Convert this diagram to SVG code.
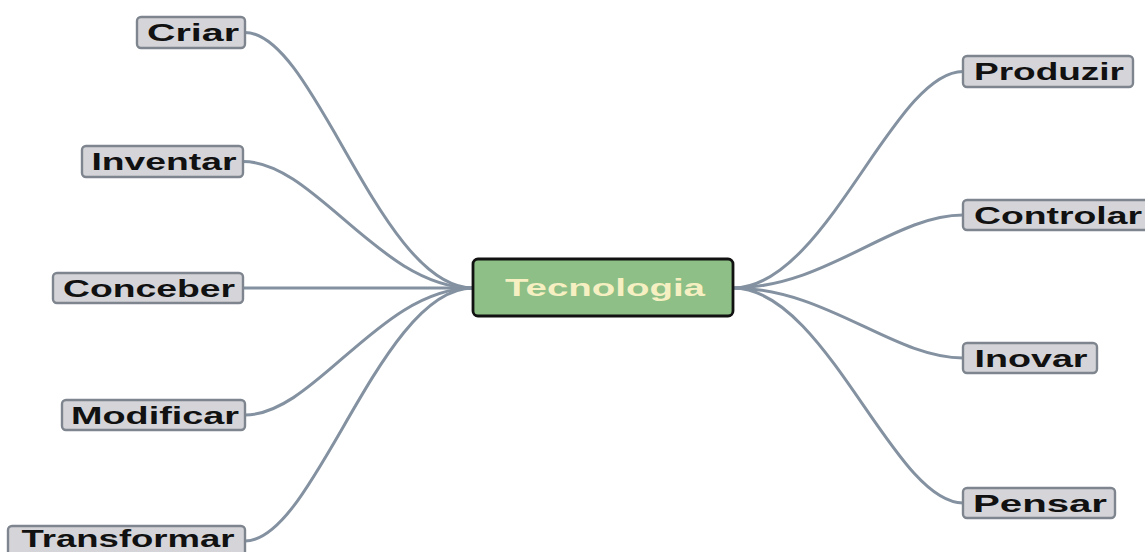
<svg xmlns="http://www.w3.org/2000/svg" width="1145" height="552" viewBox="0 0 1145 552">
<style>
.bg{fill:#ffffff}
.c{fill:none;stroke:#8391a1;stroke-width:3;stroke-linecap:round}
.n rect{fill:#d5d5d9;stroke:#7e858e;stroke-width:2.4}
.n text{font-family:"Liberation Sans",Arial,sans-serif;font-weight:bold;font-size:23px;fill:#111111;text-anchor:middle;dominant-baseline:central}
#tecnologia rect{fill:#8dbf86;stroke:#111111;stroke-width:2.8}
#tecnologia text{fill:#f6efc2}
</style>
<rect class="bg" x="0" y="0" width="1145" height="552"/>
<g id="connectors">
<path class="c" d="M245,32.5 C315,32.5 380,288 473,288"/>
<path class="c" d="M243,161.5 C315,161.5 380,288 473,288"/>
<path class="c" d="M243,288 L473,288"/>
<path class="c" d="M245,415 C315,415 380,288 473,288"/>
<path class="c" d="M245,541 C315,541 380,288 473,288"/>
<path class="c" d="M733,288 C826,288 893,71.5 963,71.5"/>
<path class="c" d="M733,288 C826,288 893,215 963,215"/>
<path class="c" d="M733,288 C826,288 893,358 963,358"/>
<path class="c" d="M733,288 C826,288 893,503 963,503"/>
</g>
<g id="tecnologia" class="n"><rect x="473" y="259" width="260" height="57" rx="5"/><text x="605" y="288" textLength="200" lengthAdjust="spacingAndGlyphs">Tecnologia</text></g>
<g id="criar" class="n"><rect x="137" y="17" width="108" height="31" rx="4"/><text x="193" y="33" textLength="92" lengthAdjust="spacingAndGlyphs">Criar</text></g>
<g id="inventar" class="n"><rect x="82" y="146" width="161" height="31" rx="4"/><text x="164" y="162" textLength="145" lengthAdjust="spacingAndGlyphs">Inventar</text></g>
<g id="conceber" class="n"><rect x="53" y="273" width="190" height="30" rx="4"/><text x="149" y="288.5" textLength="172" lengthAdjust="spacingAndGlyphs">Conceber</text></g>
<g id="modificar" class="n"><rect x="62" y="400" width="183" height="30" rx="4"/><text x="155" y="415.5" textLength="168" lengthAdjust="spacingAndGlyphs">Modificar</text></g>
<g id="transformar" class="n"><rect x="8" y="526" width="237" height="31" rx="4"/><text x="128" y="539" textLength="213" lengthAdjust="spacingAndGlyphs">Transformar</text></g>
<g id="produzir" class="n"><rect x="963" y="56" width="170" height="31" rx="4"/><text x="1049" y="72" textLength="150" lengthAdjust="spacingAndGlyphs">Produzir</text></g>
<g id="controlar" class="n"><rect x="963" y="200" width="186" height="30" rx="4"/><text x="1058" y="215.5" textLength="168" lengthAdjust="spacingAndGlyphs">Controlar</text></g>
<g id="inovar" class="n"><rect x="963" y="343" width="134" height="30" rx="4"/><text x="1031" y="358.5" textLength="113" lengthAdjust="spacingAndGlyphs">Inovar</text></g>
<g id="pensar" class="n"><rect x="963" y="488" width="152" height="30" rx="4"/><text x="1040" y="503.5" textLength="134" lengthAdjust="spacingAndGlyphs">Pensar</text></g>
</svg>
